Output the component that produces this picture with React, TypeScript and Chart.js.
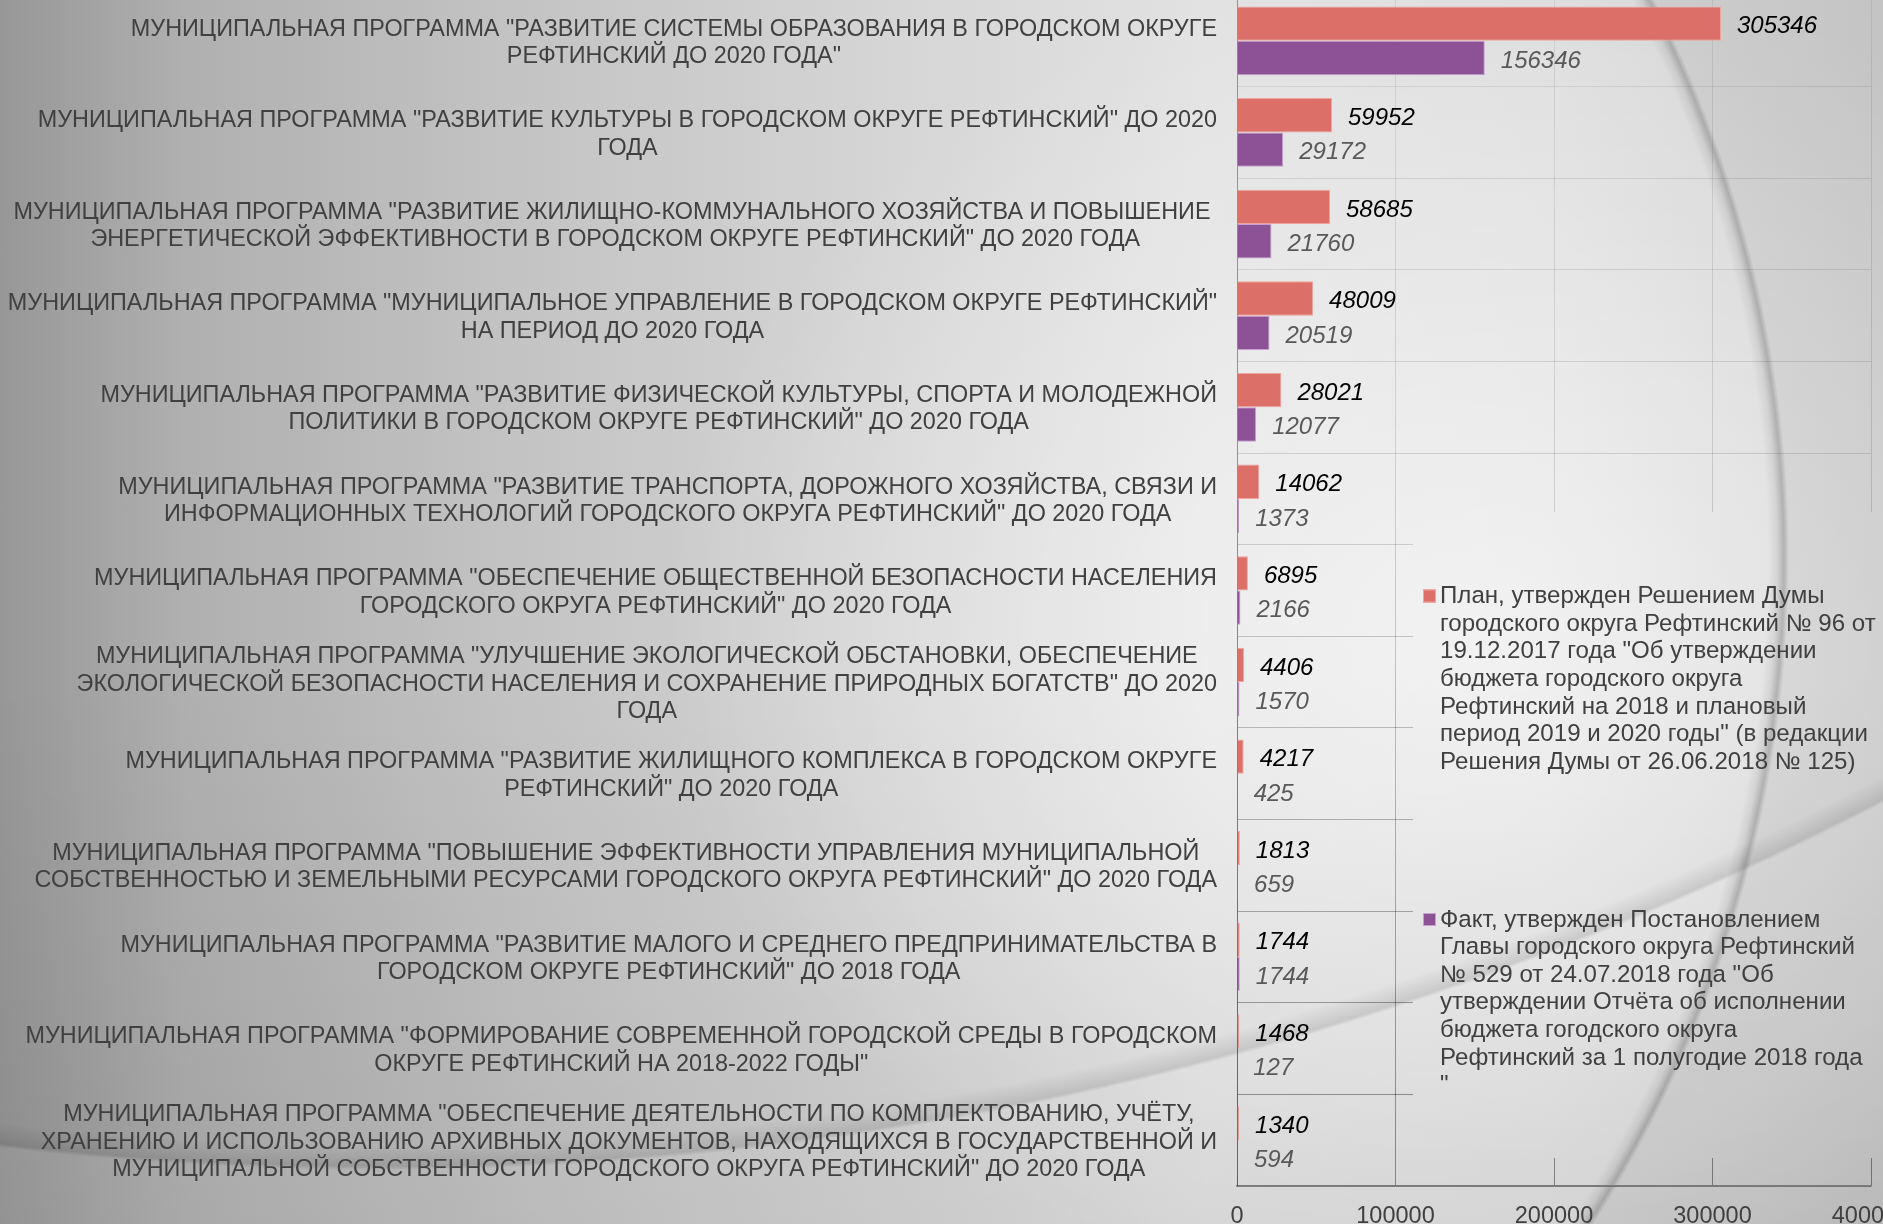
import React, { useEffect, useRef } from "react";
import { Chart, registerables } from "chart.js";

Chart.register(...registerables);

const categoryLabels: string[][] = [
  ['МУНИЦИПАЛЬНАЯ ПРОГРАММА "РАЗВИТИЕ СИСТЕМЫ ОБРАЗОВАНИЯ В ГОРОДСКОМ ОКРУГЕ', 'РЕФТИНСКИЙ ДО 2020 ГОДА"'],
  ['МУНИЦИПАЛЬНАЯ ПРОГРАММА "РАЗВИТИЕ КУЛЬТУРЫ В ГОРОДСКОМ ОКРУГЕ РЕФТИНСКИЙ" ДО 2020', 'ГОДА'],
  ['МУНИЦИПАЛЬНАЯ ПРОГРАММА "РАЗВИТИЕ ЖИЛИЩНО-КОММУНАЛЬНОГО ХОЗЯЙСТВА И ПОВЫШЕНИЕ ', 'ЭНЕРГЕТИЧЕСКОЙ ЭФФЕКТИВНОСТИ В ГОРОДСКОМ ОКРУГЕ РЕФТИНСКИЙ" ДО 2020 ГОДА'],
  ['МУНИЦИПАЛЬНАЯ ПРОГРАММА "МУНИЦИПАЛЬНОЕ УПРАВЛЕНИЕ В ГОРОДСКОМ ОКРУГЕ РЕФТИНСКИЙ"', 'НА ПЕРИОД ДО 2020 ГОДА'],
  ['МУНИЦИПАЛЬНАЯ ПРОГРАММА "РАЗВИТИЕ ФИЗИЧЕСКОЙ КУЛЬТУРЫ, СПОРТА И МОЛОДЕЖНОЙ', 'ПОЛИТИКИ В ГОРОДСКОМ ОКРУГЕ РЕФТИНСКИЙ" ДО 2020 ГОДА'],
  ['МУНИЦИПАЛЬНАЯ ПРОГРАММА "РАЗВИТИЕ ТРАНСПОРТА, ДОРОЖНОГО ХОЗЯЙСТВА, СВЯЗИ И', 'ИНФОРМАЦИОННЫХ ТЕХНОЛОГИЙ ГОРОДСКОГО ОКРУГА РЕФТИНСКИЙ" ДО 2020 ГОДА'],
  ['МУНИЦИПАЛЬНАЯ ПРОГРАММА "ОБЕСПЕЧЕНИЕ ОБЩЕСТВЕННОЙ БЕЗОПАСНОСТИ НАСЕЛЕНИЯ', 'ГОРОДСКОГО ОКРУГА РЕФТИНСКИЙ" ДО 2020 ГОДА'],
  ['МУНИЦИПАЛЬНАЯ ПРОГРАММА "УЛУЧШЕНИЕ ЭКОЛОГИЧЕСКОЙ ОБСТАНОВКИ, ОБЕСПЕЧЕНИЕ', 'ЭКОЛОГИЧЕСКОЙ БЕЗОПАСНОСТИ НАСЕЛЕНИЯ И СОХРАНЕНИЕ ПРИРОДНЫХ БОГАТСТВ" ДО 2020', 'ГОДА'],
  ['МУНИЦИПАЛЬНАЯ ПРОГРАММА "РАЗВИТИЕ ЖИЛИЩНОГО КОМПЛЕКСА В ГОРОДСКОМ ОКРУГЕ', 'РЕФТИНСКИЙ" ДО 2020 ГОДА'],
  ['МУНИЦИПАЛЬНАЯ ПРОГРАММА "ПОВЫШЕНИЕ ЭФФЕКТИВНОСТИ УПРАВЛЕНИЯ МУНИЦИПАЛЬНОЙ', 'СОБСТВЕННОСТЬЮ И ЗЕМЕЛЬНЫМИ РЕСУРСАМИ ГОРОДСКОГО ОКРУГА РЕФТИНСКИЙ" ДО 2020 ГОДА'],
  ['МУНИЦИПАЛЬНАЯ ПРОГРАММА "РАЗВИТИЕ МАЛОГО И СРЕДНЕГО ПРЕДПРИНИМАТЕЛЬСТВА В', 'ГОРОДСКОМ ОКРУГЕ РЕФТИНСКИЙ" ДО 2018 ГОДА'],
  ['МУНИЦИПАЛЬНАЯ ПРОГРАММА "ФОРМИРОВАНИЕ СОВРЕМЕННОЙ ГОРОДСКОЙ СРЕДЫ В ГОРОДСКОМ', 'ОКРУГЕ РЕФТИНСКИЙ НА 2018-2022 ГОДЫ"'],
  ['МУНИЦИПАЛЬНАЯ ПРОГРАММА "ОБЕСПЕЧЕНИЕ ДЕЯТЕЛЬНОСТИ ПО КОМПЛЕКТОВАНИЮ, УЧЁТУ,', 'ХРАНЕНИЮ И ИСПОЛЬЗОВАНИЮ АРХИВНЫХ ДОКУМЕНТОВ, НАХОДЯЩИХСЯ В ГОСУДАРСТВЕННОЙ И', 'МУНИЦИПАЛЬНОЙ СОБСТВЕННОСТИ ГОРОДСКОГО ОКРУГА РЕФТИНСКИЙ" ДО 2020 ГОДА'],
];

const planValues: number[] = [305346, 59952, 58685, 48009, 28021, 14062, 6895, 4406, 4217, 1813, 1744, 1468, 1340];
const factValues: number[] = [156346, 29172, 21760, 20519, 12077, 1373, 2166, 1570, 425, 659, 1744, 127, 594];

const xTickValues: number[] = [0, 100000, 200000, 300000, 400000];

const planLegendLines: string[] = [
  "План, утвержден Решением Думы",
  "городского округа Рефтинский № 96 от",
  "19.12.2017 года \"Об утверждении",
  "бюджета городского округа",
  "Рефтинский на 2018 и плановый",
  "период 2019 и 2020 годы\" (в редакции",
  "Решения Думы от 26.06.2018 № 125)",
];
const factLegendLines: string[] = [
  "Факт, утвержден Постановлением",
  "Главы городского округа Рефтинский",
  "№ 529 от 24.07.2018 года \"Об",
  "утверждении Отчёта об исполнении",
  "бюджета гогодского округа",
  "Рефтинский за 1 полугодие 2018 года",
  "\"",
];

const FONT = '"Liberation Sans", Arial, sans-serif';
const PLAN_COLOR = "#DC6F68";
const PLAN_BORDER = "#F0A49D";
const FACT_COLOR = "#8D5296";
const FACT_BORDER = "#C8A0D2";
const TEXT_COLOR = "#404040";

const CANVAS_W = 1960;
const CANVAS_H = 1229;
const TOP_SHIFT = 5; // canvas sits 5px above page top

const PLOT_LEFT = 1237;
const PLOT_RIGHT = 1871;
const PLOT_BOTTOM = 1186 + TOP_SHIFT;

const gridGradient = (c: any) => {
  const chart = c.chart;
  const g = chart.ctx.createLinearGradient(0, 0, 0, chart.height);
  g.addColorStop(0, "rgba(0,0,0,0.07)");
  g.addColorStop(0.4, "rgba(0,0,0,0.13)");
  g.addColorStop(0.7, "rgba(0,0,0,0.28)");
  g.addColorStop(1, "rgba(0,0,0,0.42)");
  return g;
};

const legendBoxClear = {
  id: "legendBoxClear",
  beforeDatasetsDraw(chart: any) {
    const ctx = chart.ctx;
    ctx.clearRect(1413, 512 + TOP_SHIFT, CANVAS_W - 1413, 1158 - 512);
  },
};

const categoryLabelPlugin = {
  id: "categoryLabels",
  afterDraw(chart: any) {
    const ctx = chart.ctx;
    const yScale = chart.scales.y;
    const right = 1217;
    const lineH = 27.4;
    ctx.save();
    ctx.font = `23.4px ${FONT}`;
    ctx.fillStyle = TEXT_COLOR;
    ctx.textAlign = "center";
    ctx.textBaseline = "middle";
    categoryLabels.forEach((lines, i) => {
      const cy = yScale.getPixelForValue(i) + 2;
      const widest = Math.max(...lines.map((l) => ctx.measureText(l).width));
      const cx = right - widest / 2;
      const y0 = cy - ((lines.length - 1) * lineH) / 2;
      lines.forEach((l, k) => ctx.fillText(l, cx, y0 + k * lineH));
    });
    ctx.restore();
  },
};

const valueLabelPlugin = {
  id: "valueLabels",
  afterDatasetsDraw(chart: any) {
    const ctx = chart.ctx;
    ctx.save();
    ctx.font = `italic 24px ${FONT}`;
    ctx.textAlign = "left";
    ctx.textBaseline = "middle";
    chart.data.datasets.forEach((ds: any, di: number) => {
      const meta = chart.getDatasetMeta(di);
      ctx.fillStyle = di === 0 ? "#000000" : "#595959";
      meta.data.forEach((bar: any, i: number) => {
        ctx.fillText(String(ds.data[i]), bar.x + 16, bar.y + 3);
      });
    });
    ctx.restore();
  },
};

const legendPlugin = {
  id: "customLegend",
  afterDraw(chart: any) {
    const ctx = chart.ctx;
    const lineH = 27.6;
    const entries = [
      { lines: planLegendLines, y: 596.5 + TOP_SHIFT, fill: PLAN_COLOR, border: PLAN_BORDER },
      { lines: factLegendLines, y: 920 + TOP_SHIFT, fill: FACT_COLOR, border: FACT_BORDER },
    ];
    ctx.save();
    ctx.font = `24.1px ${FONT}`;
    ctx.textAlign = "left";
    ctx.textBaseline = "middle";
    entries.forEach((e) => {
      ctx.fillStyle = e.fill;
      ctx.fillRect(1423, e.y - 7, 13, 13);
      ctx.strokeStyle = e.border;
      ctx.lineWidth = 1;
      ctx.strokeRect(1423.5, e.y - 6.5, 12, 12);
      ctx.fillStyle = TEXT_COLOR;
      e.lines.forEach((l, k) => ctx.fillText(l, 1440, e.y + k * lineH));
    });
    ctx.restore();
  },
};

export default function App() {
  const canvasRef = useRef<HTMLCanvasElement | null>(null);

  useEffect(() => {
    const canvas = canvasRef.current;
    if (!canvas) return;
    const chart = new Chart(canvas, {
      type: "bar",
      data: {
        labels: categoryLabels,
        datasets: [
          {
            label: planLegendLines.join(" "),
            data: planValues,
            backgroundColor: PLAN_COLOR,
            borderColor: PLAN_BORDER,
            borderWidth: 1,
            categoryPercentage: 0.75,
            barPercentage: 1,
          },
          {
            label: factLegendLines.join(" "),
            data: factValues,
            backgroundColor: FACT_COLOR,
            borderColor: FACT_BORDER,
            borderWidth: 1,
            categoryPercentage: 0.75,
            barPercentage: 1,
          },
        ],
      },
      options: {
        indexAxis: "y",
        responsive: false,
        maintainAspectRatio: false,
        animation: false,
        events: [],
        layout: { padding: { left: 0, right: CANVAS_W - PLOT_RIGHT, top: 0, bottom: 0 } },
        plugins: { legend: { display: false }, tooltip: { enabled: false } },
        scales: {
          x: {
            type: "linear",
            min: 0,
            max: 400000,
            afterBuildTicks: (s: any) => {
              s.ticks = xTickValues.map((v) => ({ value: v }));
            },
            afterFit: (s: any) => {
              s.height = CANVAS_H - PLOT_BOTTOM;
              s.paddingLeft = 0;
              s.paddingRight = 0;
            },
            ticks: {
              color: TEXT_COLOR,
              padding: 16,
              font: { family: FONT, size: 23.5 },
              callback: (v: any) => String(v),
            },
            grid: { color: gridGradient, drawTicks: false, lineWidth: 1 },
            border: { color: "#7a7a7a", width: 1.5 },
          },
          y: {
            type: "category",
            afterFit: (s: any) => {
              s.width = PLOT_LEFT;
            },
            ticks: { display: false },
            grid: { color: gridGradient, drawTicks: false, offset: true, lineWidth: 1 },
            border: { color: "rgba(0,0,0,0.3)", width: 1 },
          },
        },
      },
      plugins: [legendBoxClear, valueLabelPlugin, categoryLabelPlugin, legendPlugin],
    } as any);
    return () => chart.destroy();
  }, []);

  const bg = [
    "radial-gradient(circle 1260px at 558px 559px, rgba(0,0,0,0) 1210px, rgba(0,0,0,0.07) 1219px, rgba(0,0,0,0.22) 1226px, rgba(0,0,0,0.06) 1231px, rgba(0,0,0,0.06) 1260px)",
    "radial-gradient(circle 3300px at 381px -2091px, rgba(0,0,0,0) 3236px, rgba(0,0,0,0.11) 3257px, rgba(255,255,255,0.06) 3261px, rgba(255,255,255,0.06) 3300px)",
    "radial-gradient(ellipse 820px 680px at 1480px 640px, rgba(255,255,255,0.6) 0%, rgba(255,255,255,0) 100%)",
    "linear-gradient(to bottom, rgba(0,0,0,0) 55%, rgba(0,0,0,0.07) 100%)",
    "linear-gradient(to right, #979797 0%, #b0b0b0 10%, #c4c4c4 28%, #d6d6d6 48%, #e2e2e2 64%, #dedede 82%, #d0d0d0 100%)",
  ].join(", ");

  return (
    <div
      style={{
        position: "fixed",
        left: 0,
        top: 0,
        width: 1883,
        height: 1224,
        overflow: "hidden",
        background: bg,
      }}
    >
      <canvas
        ref={canvasRef}
        width={CANVAS_W}
        height={CANVAS_H}
        style={{ position: "absolute", left: 0, top: -TOP_SHIFT, width: CANVAS_W, height: CANVAS_H }}
      />
    </div>
  );
}
